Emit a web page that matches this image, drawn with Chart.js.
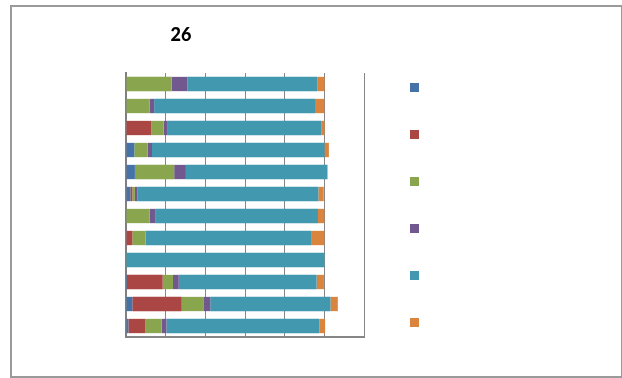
<!DOCTYPE html>
<html>
<head>
<meta charset="utf-8">
<script src="https://cdn.jsdelivr.net/npm/chart.js@4/dist/chart.umd.min.js"></script>
<style>
    html, body { margin: 0; padding: 0; background: #fff; }
    #wrap { position: relative; width: 622px; height: 378px; overflow: hidden; }
    #frame {
        position: absolute; left: 10px; top: 5px; width: 609px; height: 369px;
        border: 2px solid #9a9a9a;
    }
    #chart { position: absolute; left: 0; top: 0; }
    #title {
        position: absolute; left: 151px; top: 25px; width: 60px;
        text-align: center; font: 900 18px/18px Lato, "Liberation Sans", sans-serif; color: #000;
    }
    #legend { position: absolute; left: 410px; top: 83px; }
    #legend span { display: block; width: 9px; height: 9px; margin-bottom: 38px; }
</style>
</head>
<body>
<div id="wrap">
    <div id="frame"></div>
    <canvas id="chart" width="622" height="378"></canvas>
    <div id="title">26</div>
    <div id="legend"></div>
</div>
<script>
// rows, top to bottom
const categories = ['1', '2', '3', '4', '5', '6', '7', '8', '9', '10', '11', '12'];
const seriesNames = ['Series 1', 'Series 2', 'Series 3', 'Series 4', 'Series 5', 'Series 6'];
const seriesColors = ['#4572A7', '#AA4643', '#89A54E', '#71588F', '#4198AF', '#DB843D'];

const series1 = [0, 0, 0, 4.2, 4.5, 2.2, 0, 0, 0, 0.5, 3.2, 1.2];
const series2 = [0, 0, 12.8, 0, 0, 1.0, 0, 3.2, 0, 18.0, 24.9, 8.6];
const series3 = [23.0, 11.9, 6.2, 6.7, 19.8, 1.3, 11.9, 6.7, 0, 5.2, 10.9, 8.2];
const series4 = [7.9, 2.3, 1.7, 2.2, 5.9, 1.2, 2.8, 0, 0, 2.9, 3.5, 2.4];
const series5 = [65.5, 81.1, 77.7, 87.0, 71.4, 91.3, 82.1, 83.4, 100, 69.5, 60.6, 77.1];
const series6 = [3.7, 4.7, 1.7, 2.2, 0, 2.7, 3.2, 6.7, 0, 3.7, 3.7, 2.9];

const axisMax = 120;
const axisStep = 20;

const allSeries = [series1, series2, series3, series4, series5, series6];

const chart = new Chart(document.getElementById('chart'), {
    type: 'bar',
    data: {
        labels: categories,
        datasets: allSeries.map((values, i) => ({
            label: seriesNames[i],
            data: values,
            backgroundColor: seriesColors[i],
            borderWidth: 0,
            categoryPercentage: 1,
            barPercentage: 0.65
        }))
    },
    options: {
        indexAxis: 'y',
        responsive: false,
        animation: false,
        layout: { padding: { left: 126, top: 73, right: 258, bottom: 41 } },
        plugins: {
            legend: { display: false },
            title: { display: false },
            tooltip: { enabled: false }
        },
        scales: {
            x: {
                stacked: true,
                min: 0,
                max: axisMax,
                ticks: { display: false, stepSize: axisStep },
                grid: { color: '#868686', lineWidth: 1, drawTicks: false, tickLength: 0 },
                border: { display: true, color: '#868686', width: 2 }
            },
            y: {
                stacked: true,
                ticks: { display: false },
                grid: { display: false, drawTicks: false, tickLength: 0 },
                border: { display: true, color: '#808080', width: 2 }
            }
        }
    }
});

// legend squares, no text, built from the datasets
const legend = document.getElementById('legend');
chart.data.datasets.forEach(ds => {
    const box = document.createElement('span');
    box.style.background = ds.backgroundColor;
    legend.appendChild(box);
});
</script>
</body>
</html>
